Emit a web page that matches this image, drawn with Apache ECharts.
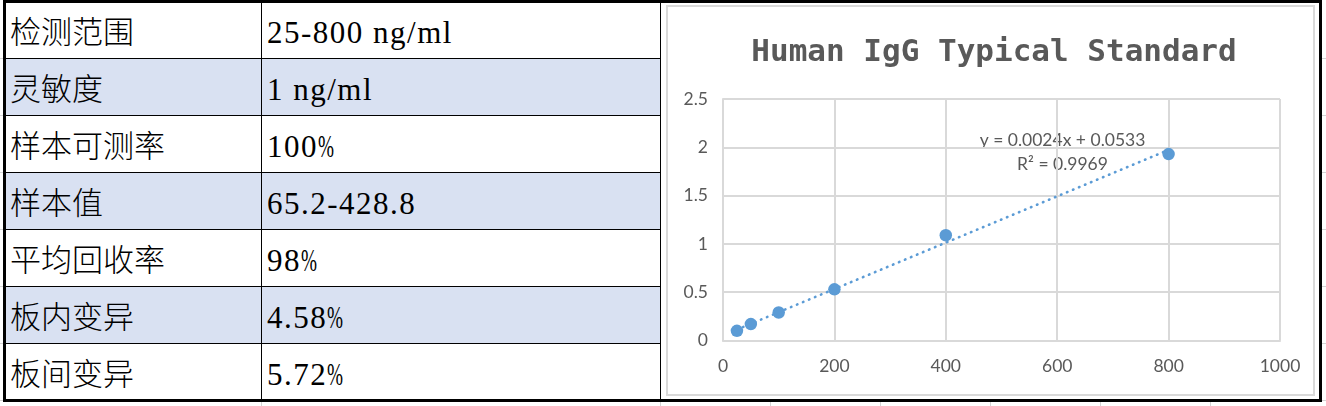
<!DOCTYPE html>
<html><head><meta charset="utf-8">
<script src="https://cdn.jsdelivr.net/npm/echarts@6/dist/echarts.min.js"></script>
<style>
html,body{margin:0;padding:0;}
body{width:1326px;height:406px;overflow:hidden;background:#fff;position:relative;}
.abs{position:absolute;}
.lbl{position:absolute;font-family:"Noto Sans CJK SC";font-size:31px;font-weight:300;color:#000;white-space:pre;line-height:56px;height:56px;}
.val{position:absolute;font-family:"Liberation Serif","DejaVu Serif",serif;font-size:31px;letter-spacing:1.5px;color:#000;white-space:pre;line-height:56px;height:56px;}
.pct{display:inline-block;width:16px;transform:scaleX(0.62);transform-origin:0 50%;}
</style></head><body>
<div id="bg"></div>
<div id="table"></div>
<div id="chart" class="abs" style="left:663px;top:3px;width:655px;height:396px;"></div>
<div class="abs" style="left:666px;top:5px;width:649px;height:391px;border:2px solid #D9D9D9;box-sizing:border-box;pointer-events:none;"></div>
<div class="abs" style="left:3px;top:0;width:1319px;height:402px;border:3px solid #000;box-sizing:border-box;pointer-events:none;"></div>
<script>
// ---- table data ----
const rowLabels = ['检测范围', '灵敏度', '样本可测率', '样本值', '平均回收率', '板内变异', '板间变异'];
const rowValues = ['25-800 ng/ml', '1 ng/ml', '100%', '65.2-428.8', '98%', '4.58%', '5.72%'];

// ---- chart data ----
const conc = [25, 50, 100, 200, 400, 800];          // ng/ml
const od = [0.10, 0.17, 0.29, 0.53, 1.09, 1.93];     // absorbance
const trendX = [25, 800];
const trendY = [0.113, 1.973];
const xTickMin = 0, xTickMax = 1000, xTickStep = 200;
const yTickMin = 0, yTickMax = 2.5, yTickStep = 0.5;
const chartTitle = 'Human IgG Typical Standard';
const equationText = 'y = 0.0024x + 0.0533';
const r2Text = 'R² = 0.9969';

// ---- build table (HTML) ----
const tbl = document.getElementById('table');
const bg = document.getElementById('bg');
const ROW_H = 57;
let html = '';
let bgh = '';
for (let i = 0; i < 7; i++) {
  const y = 58 + ROW_H * i;
  bgh += `<div class="abs" style="left:0;top:${y}px;width:3px;height:1px;background:#D4D4D4"></div>`;
  bgh += `<div class="abs" style="left:1322px;top:${y}px;width:4px;height:1px;background:#D4D4D4"></div>`;
}
[261, 660, 770, 880, 990, 1100, 1210].forEach(x => {
  bgh += `<div class="abs" style="left:${x}px;top:402px;width:1px;height:4px;background:#D4D4D4"></div>`;
});
bg.innerHTML = bgh;

rowLabels.forEach((lab, i) => {
  const top = 2 + ROW_H * i;
  if (i % 2 === 1) {
    html += `<div class="abs" style="left:6px;top:${top}px;width:654px;height:${ROW_H}px;background:#D9E1F2"></div>`;
  }
});
for (let i = 1; i < 7; i++) {
  const y = 1 + ROW_H * i;
  html += `<div class="abs" style="left:6px;top:${y}px;width:654px;height:1px;background:#000"></div>`;
}
html += `<div class="abs" style="left:261px;top:3px;width:1px;height:396px;background:#000"></div>`;
html += `<div class="abs" style="left:660px;top:3px;width:1px;height:396px;background:#000"></div>`;
rowLabels.forEach((lab, i) => {
  const top = 2 + ROW_H * i;
  const v = rowValues[i].replace('%', '<span class="pct">%</span>');
  html += `<div class="lbl" style="left:10px;top:${top}px">${lab}</div>`;
  html += `<div class="val" style="left:267px;top:${top + 3}px">${v}</div>`;
});
tbl.innerHTML = html;

// ---- chart ----
const chart = echarts.init(document.getElementById('chart'));
const pts = conc.map((x, i) => [x, od[i]]);
const trend = trendX.map((x, i) => [x, trendY[i]]);
const axisFont = { color: '#595959', fontFamily: 'Lato', fontSize: 17.5 };
const gridColor = '#D9D9D9';
chart.setOption({
  animation: false,
  grid: { left: 60, top: 96, width: 557, height: 241.5 },
  xAxis: {
    type: 'value', min: xTickMin, max: xTickMax, interval: xTickStep,
    axisLine: { show: true, lineStyle: { color: gridColor, width: 2 } },
    axisTick: { show: false },
    splitLine: { show: true, lineStyle: { color: gridColor, width: 2 } },
    axisLabel: Object.assign({ margin: 17, formatter: v => String(v) }, axisFont)
  },
  yAxis: {
    type: 'value', min: yTickMin, max: yTickMax, interval: yTickStep,
    axisLine: { show: true, lineStyle: { color: gridColor, width: 2 } },
    axisTick: { show: false },
    splitLine: { show: true, lineStyle: { color: gridColor, width: 2 } },
    axisLabel: Object.assign({ margin: 15, formatter: v => String(v) }, axisFont)
  },
  series: [
    {
      type: 'line', data: trend, symbol: 'none', silent: true, z: 2,
      lineStyle: { color: '#5B9BD5', width: 2.6, type: [0.5, 6], cap: 'round' }
    },
    {
      type: 'scatter', data: pts, symbol: 'circle', symbolSize: 12.5, z: 3,
      itemStyle: { color: '#5B9BD5', opacity: 1 }
    }
  ],
  graphic: [
    {
      type: 'text', x: 331, y: 50,
      style: {
        text: chartTitle, fontFamily: 'DejaVu Sans Mono', fontSize: 31, fontWeight: 'bold',
        fill: '#595959', align: 'center', verticalAlign: 'middle',
        textAlign: 'center', textVerticalAlign: 'middle'
      }
    },
    {
      type: 'text', x: 399.5, y: 149,
      style: {
        text: equationText + '\n' + r2Text, fontFamily: 'Lato', fontSize: 17.5,
        lineHeight: 24, fill: '#595959', align: 'center', verticalAlign: 'middle',
        textAlign: 'center', textVerticalAlign: 'middle'
      }
    }
  ]
});
</script>
</body></html>
